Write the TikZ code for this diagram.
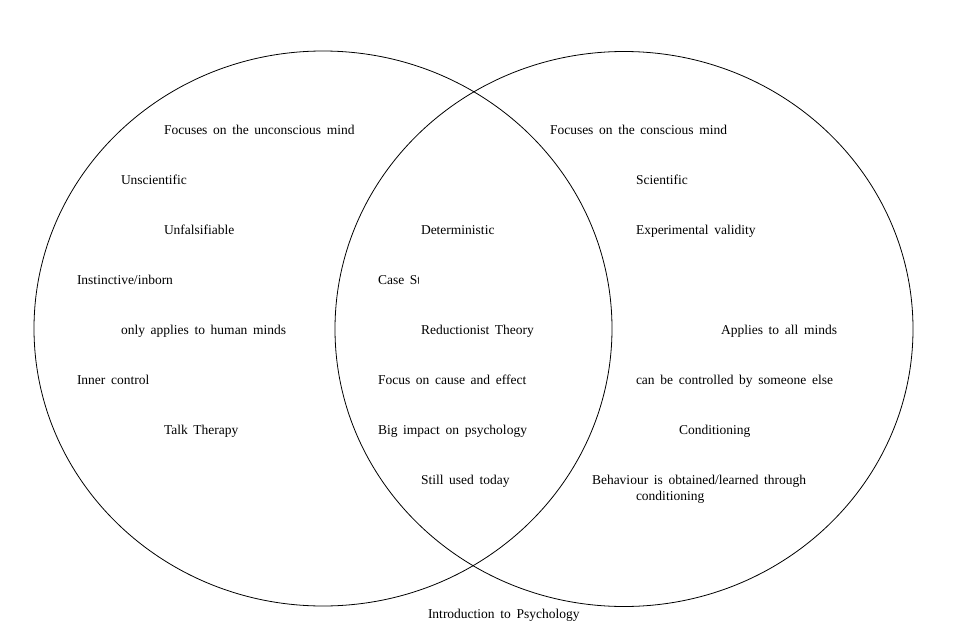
\documentclass[tikz,border=0pt]{standalone}
\usepackage{fontspec}
\setmainfont{Liberation Serif}
\usepackage{tikz}
\usetikzlibrary{shapes.geometric}

\begin{document}
\begin{tikzpicture}[
	x=1pt, y=-1pt,
	VennSet/.style={draw, ellipse, line width=0.8pt, minimum width=578pt,
		minimum height=555pt, inner sep=0pt, outer sep=0pt},
	VennText/.style={anchor=base west, inner sep=0pt, outer sep=0pt,
		font={\fontsize{13.5}{16}\selectfont\spaceskip=0.42em\relax}},
	]
	\useasboundingbox (0,0) rectangle (954,632);

	\node [VennSet] (left) at (323,328.5) {};
	\node [VennSet] (right) at (624,329) {};

	% left set
	\node [VennText] (l1) at (164,134) {Focuses on the unconscious mind};
	\node [VennText] (l2) at (121,184) {Unscientific};
	\node [VennText] (l3) at (164,234) {Unfalsifiable};
	\node [VennText] (l4) at (77,284) {Instinctive/inborn};
	\node [VennText] (l5) at (121,334) {only applies to human minds};
	\node [VennText] (l6) at (77,384) {Inner control};
	\node [VennText] (l7) at (164,434) {Talk Therapy};

	% both sets
	\node [VennText] (m1) at (421,234) {Deterministic};
	\begin{scope}
		\clip (370,260) rectangle (418.5,300);
		\node [VennText] (m2) at (378,284) {Case Study};
	\end{scope}
	\node [VennText] (m3) at (421,334) {Reductionist Theory};
	\node [VennText] (m4) at (378,384) {Focus on cause and effect};
	\node [VennText] (m5) at (378,434) {Big impact on psychology};
	\node [VennText] (m6) at (421,484) {Still used today};

	% right set
	\node [VennText] (r1) at (550,134) {Focuses on the conscious mind};
	\node [VennText] (r2) at (636,184) {Scientific};
	\node [VennText] (r3) at (636,234) {Experimental validity};
	\node [VennText] (r4) at (721,334) {Applies to all minds};
	\node [VennText] (r5) at (636,384) {can be controlled by someone else};
	\node [VennText] (r6) at (679,434) {Conditioning};
	\node [VennText] (r7) at (592,484) {Behaviour is obtained/learned through};
	\node [VennText] (r8) at (636,500) {conditioning};

	\node [VennText] (title) at (428,618) {Introduction to Psychology};
\end{tikzpicture}
\end{document}
